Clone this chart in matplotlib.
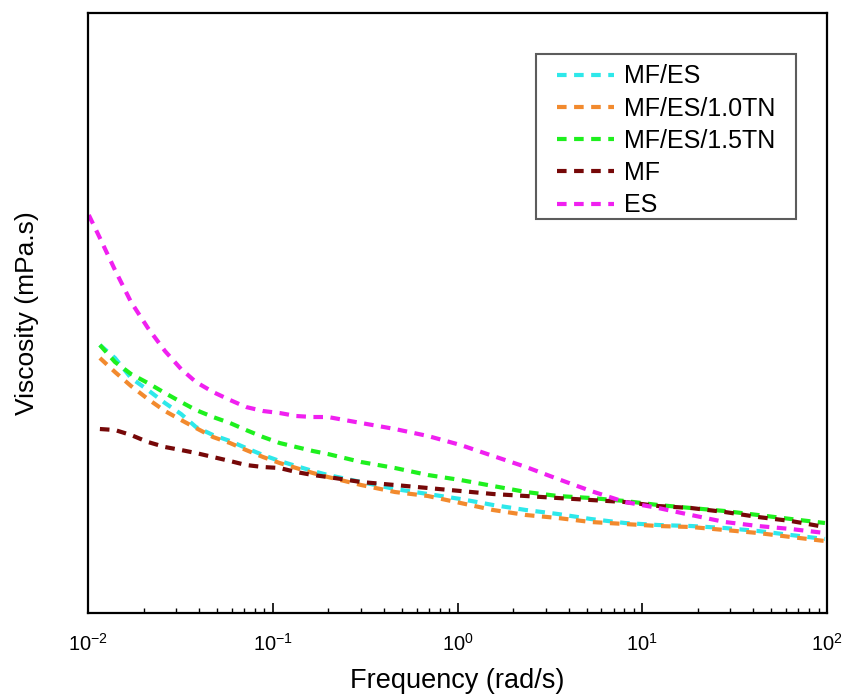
import numpy as np
import matplotlib
matplotlib.use("Agg")
import matplotlib.pyplot as plt
from matplotlib.path import Path

# frequency grid (rad/s) and viscosity curves (arbitrary units, no y scale shown)
freq = [0.0101, 0.0116, 0.0140, 0.0171, 0.0211, 0.0261, 0.0319, 0.0384, 0.0475,
        0.0587, 0.0717, 0.0886, 0.109, 0.134, 0.165, 0.199, 0.301, 0.459, 0.692,
        1.04, 1.56, 2.35, 3.50, 5.28, 8.07, 12.2, 18.4, 28.0, 42.4, 63.9, 97.5]

mf_es = [np.nan, 268, 255, 235, 223, 210, 199, 186, 178, 172, 165, 158, 152, 147,
         142, 138, 131, 124, 119, 114, 108, 103, 99, 94, 90, 88, 87, 85, 82, 78, 74]
mf_es_10tn = [np.nan, 255, 241, 227, 214, 202, 193, 185, 176, 170, 163, 156, 150,
              145, 140, 136, 128, 121, 117, 110, 103, 98, 95, 91, 89, 87, 86, 83,
              80, 76, 72]
mf_es_15tn = [np.nan, 268, 251, 239, 230, 220, 211, 203, 196, 190, 183, 176, 170,
              166, 162, 159, 151, 145, 138, 133, 127, 121, 117, 115, 112, 108, 105,
              102, 98, 94, 90]
mf = [np.nan, 184, 183, 178, 171, 166, 163, 160, 156, 152, 148, 146, 145, 141, 138,
      136, 131, 128, 125, 122, 119, 117, 115, 113, 111, 107, 105, 101, 96, 92, 86]
es = [398, 375, 343, 311, 285, 262, 244, 231, 221, 213, 206, 202, 200, 197, 196,
      196, 190, 184, 177, 168, 157, 146, 134, 122, 111, 105, 98, 91, 87, 84, 80]

labels = ["MF/ES", "MF/ES/1.0TN", "MF/ES/1.5TN", "MF", "ES"]
colors = ["#2ee8ea", "#f28a2e", "#1ef01e", "#760808", "#f020f0"]

plt.rcParams["font.family"] = ["Liberation Sans", "DejaVu Sans"]
plt.rcParams["mathtext.fontset"] = "custom"
plt.rcParams["mathtext.rm"] = "Liberation Sans"
plt.rcParams["mathtext.it"] = "Liberation Sans:italic"


def wide_box(x0, y0, width, height, mutation_size):
    # legend frame: extra room left/right, tighter at the bottom
    p = 0.4 * mutation_size
    b = 0.35 * mutation_size
    x0 -= p
    width += 2 * p
    y0 += b
    height -= b
    return Path([(x0, y0), (x0 + width, y0), (x0 + width, y0 + height),
                 (x0, y0 + height), (x0, y0)], closed=True)


fig = plt.figure(figsize=(8.42, 6.99), dpi=100)
ax = fig.add_axes([0.1045, 0.123, 0.8777, 0.8584])

series = [mf_es, mf_es_10tn, mf_es_15tn, mf, es]
for ys, lab, c in zip(series, labels, colors):
    ax.plot(freq, ys, color=c, lw=3.0, dashes=(2.3, 1.8), label=lab)

ax.set_xscale("log")
ax.set_xlim(0.01, 100)
ax.set_ylim(0, 600)
ax.set_yticks([])
ax.tick_params(axis="x", which="major", direction="in", length=7, width=1.2,
               labelsize=14.5, pad=14.5)
ax.tick_params(axis="x", which="minor", direction="in", length=3.5, width=1.0)
for s in ax.spines.values():
    s.set_linewidth(1.6)

ax.set_xlabel("Frequency (rad/s)", fontsize=19.5, labelpad=9)
ax.set_ylabel("Viscosity (mPa.s)", fontsize=19, labelpad=35)

leg = ax.legend(loc="upper right", bbox_to_anchor=(0.9445, 0.932), fontsize=18,
                frameon=True, fancybox=False, edgecolor="#333333",
                handlelength=2.3, handletextpad=0.4, labelspacing=0.33,
                borderpad=0.42, borderaxespad=0)
leg.get_frame().set_linewidth(1.5)
leg.get_frame().set_boxstyle(wide_box)

fig.savefig("out.png", dpi=100)
